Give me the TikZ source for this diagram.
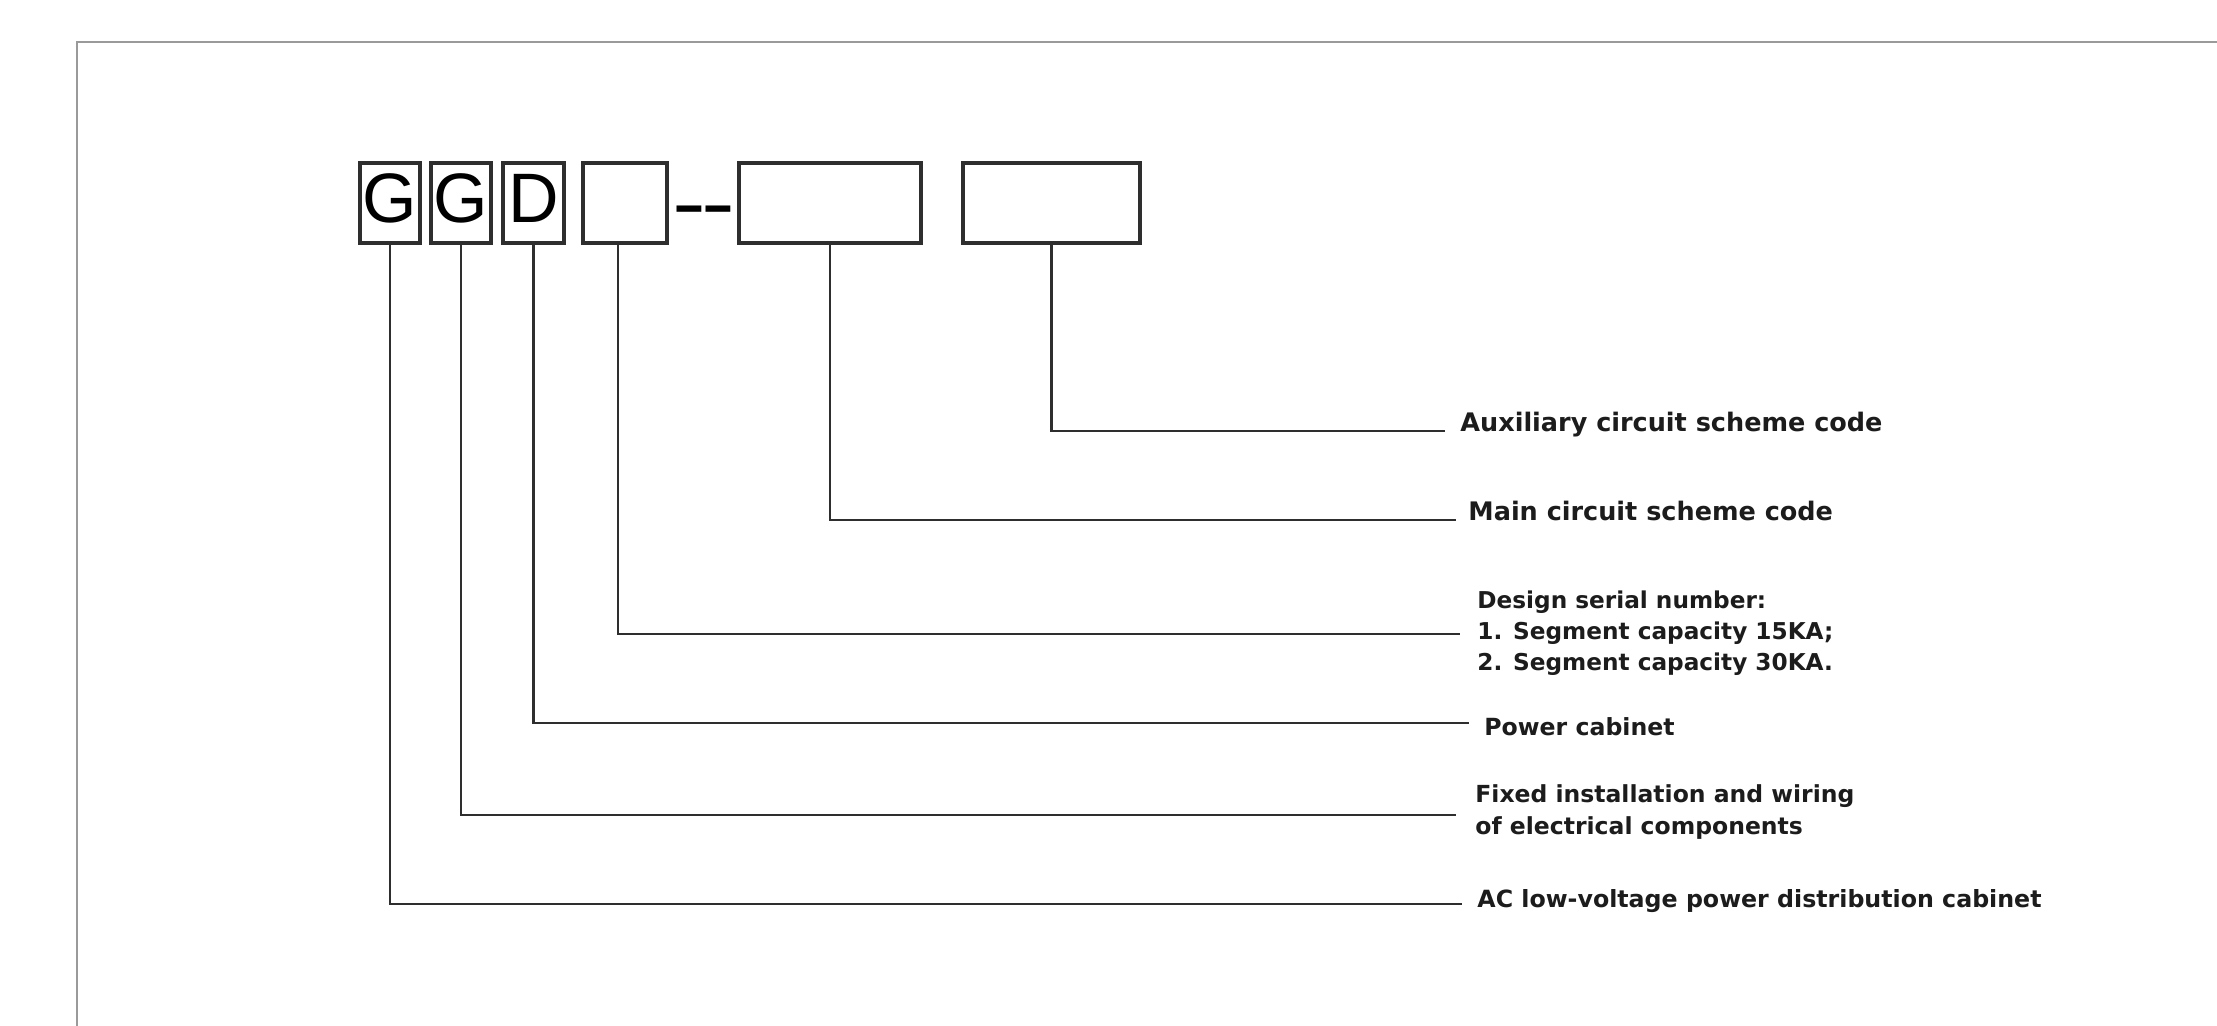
\documentclass[tikz,border=0pt]{standalone}
\usepackage{fontspec}
\setmainfont{DejaVu Sans}
\newfontfamily\arialfont{Liberation Sans}
\definecolor{ink}{HTML}{2E2E2E}
\definecolor{txt}{HTML}{1C1C1C}
\definecolor{framecol}{HTML}{9A9A9A}
\begin{document}
\begin{tikzpicture}[x=0.5pt,y=-0.5pt,
  lbl/.style={text=txt, inner sep=0pt, align=left},
  letterbox/.style={draw=ink, line width=1.6pt, inner sep=0pt, minimum height=40pt,
    font=\arialfont\fontsize{35}{35}\selectfont, text=black, text height=25pt, text depth=5.5pt},
  conn/.style={draw=ink, line width=1.3pt},
]
\fill[white] (0,0) rectangle (2217,1026);
\useasboundingbox (0,0) rectangle (2217,1026);
\draw[framecol, line width=1.3pt] (77,1040) -- (77,42) -- (2230,42);

\node[letterbox, minimum width=30pt] (g1) at (390,203) {G};
\node[letterbox, minimum width=30pt] (g2) at (461,203) {G};
\node[letterbox, minimum width=30.5pt] (d) at (533.5,203) {D};
\node[letterbox, minimum width=42pt] (b4) at (625,203) {};
\node[inner sep=0pt, anchor=base, text=black, font=\arialfont\fontsize{35}{35}\selectfont] (dash) at (704,231) {\scalebox{1.45}[1.15]{-\kern-1.7pt-}};
\node[letterbox, minimum width=91pt] (b5) at (830,203) {};
\node[letterbox, minimum width=88.5pt] (b6) at (1051.5,203) {};

\coordinate (eAux) at (1445,431);
\coordinate (eMain) at (1456,520);
\coordinate (eDes) at (1460,634);
\coordinate (ePow) at (1469,723);
\coordinate (eFix) at (1456,815);
\coordinate (eAC) at (1462,904);

\draw[conn] (b6.south) |- (eAux);
\draw[conn] (b5.south) |- (eMain);
\draw[conn] ([xshift=-3.5pt]b4.south) |- (eDes);
\draw[conn] (d.south) |- (ePow);
\draw[conn] (g2.south) |- (eFix);
\draw[conn] (g1.south) |- (eAC);

\node[lbl, anchor=base west, font=\fontsize{12.75}{15.5}\selectfont\bfseries] (tAux) at (1460,432) {Auxiliary circuit scheme code};
\node[lbl, anchor=base west, font=\fontsize{12.75}{15.5}\selectfont\bfseries] (tMain) at (1468,521) {Main circuit scheme code};
\node[lbl, anchor=north west, font=\fontsize{11.6}{15.5}\selectfont\bfseries] (tDes) at (1477,590) {Design serial number:\\1. Segment capacity 15KA;\\2. Segment capacity 30KA.};
\node[lbl, anchor=base west, font=\fontsize{11.8}{15.5}\selectfont\bfseries] (tPow) at (1484,735) {Power cabinet};
\node[lbl, anchor=north west, font=\fontsize{11.75}{16.3}\selectfont\bfseries] (tFix) at (1475,784) {Fixed installation and wiring\\of electrical components};
\node[lbl, anchor=base west, font=\fontsize{11.85}{15.5}\selectfont\bfseries] (tAC) at (1477,907) {AC low-voltage power distribution cabinet};
\end{tikzpicture}
\end{document}
